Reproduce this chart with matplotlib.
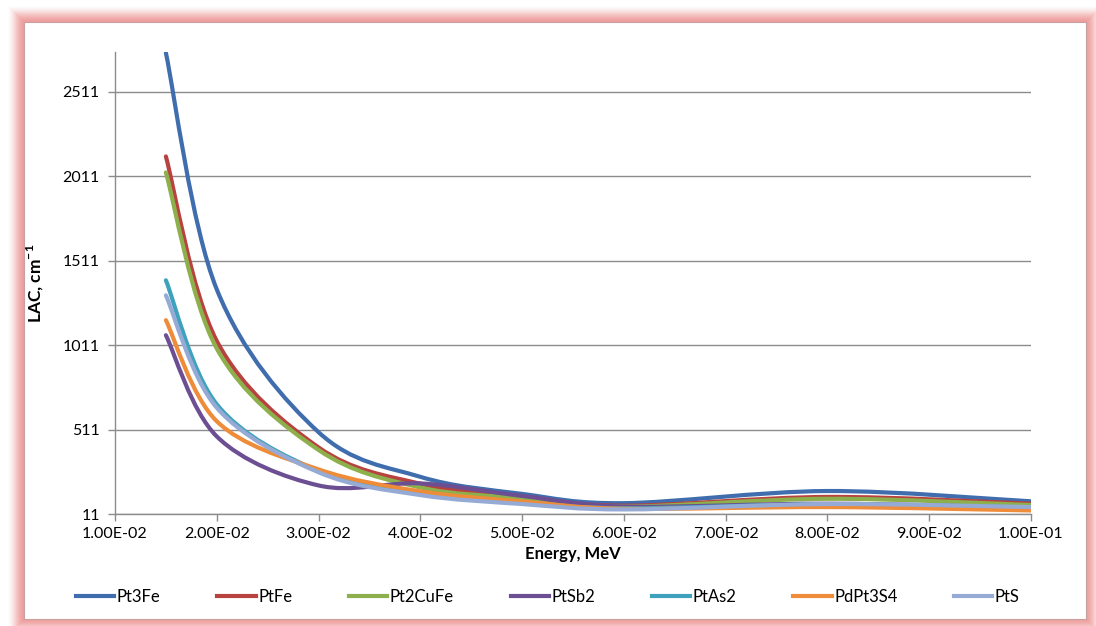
"""
LAC vs photon energy for platinum-group minerals, Excel-style smoothed lines.
"""

import numpy as np
import matplotlib
matplotlib.use("Agg")
import matplotlib.pyplot as plt
from matplotlib.path import Path
from matplotlib.patches import PathPatch, Rectangle
from matplotlib.lines import Line2D
from matplotlib.ticker import FuncFormatter

plt.rcParams["font.family"] = ["Lato", "DejaVu Sans"]

# energies, MeV
energy = [0.015, 0.02, 0.03, 0.04, 0.05, 0.06, 0.08, 0.1]

# linear attenuation coefficient, cm^-1
pt3fe   = [2740, 1340, 495, 231, 130, 75, 147, 86]
ptfe    = [2127, 1035, 405, 190, 115, 60, 112, 72]
pt2cufe = [2032,  990, 390, 168, 105, 55, 101, 64]
ptsb2   = [1069,  470, 180, 192, 118, 55,  72, 48]
ptas2   = [1394,  660, 265, 140,  80, 45,  68, 50]
pdpt3s4 = [1158,  560, 275, 145,  85, 42,  52, 32]
pts     = [1305,  640, 258, 123,  70, 38,  70, 52]

names  = ["Pt3Fe", "PtFe", "Pt2CuFe", "PtSb2", "PtAs2", "PdPt3S4", "PtS"]
series = [pt3fe, ptfe, pt2cufe, ptsb2, ptas2, pdpt3s4, pts]
colors = ["#3F6DAD", "#B8423F", "#8DB04C", "#6C4F92",
          "#3EA2BD", "#EE8C3A", "#95ABD5"]

y_ticks = [11, 511, 1011, 1511, 2011, 2511]
x_ticks = [0.01, 0.02, 0.03, 0.04, 0.05, 0.06, 0.07, 0.08, 0.09, 0.10]


def smooth_path(xs, ys):
    """Catmull-Rom style cubic Bezier through the points (like Excel smoothing)."""
    p = np.column_stack([xs, ys]).astype(float)
    n = len(p)
    verts = [p[0]]
    codes = [Path.MOVETO]
    for i in range(n - 1):
        p0 = p[i - 1] if i > 0 else p[i]
        p3 = p[i + 2] if i + 2 < n else p[i + 1]
        c1 = p[i] + (p[i + 1] - p0) / 6
        c2 = p[i + 1] - (p3 - p[i]) / 6
        verts += [c1, c2, p[i + 1]]
        codes += [Path.CURVE4] * 3
    return Path(verts, codes)


fig = plt.figure(figsize=(10.96, 6.26), dpi=100)
fig.patch.set_facecolor("white")

# pink glowing frame around the chart area
W, H = 1096, 626
x0, y0, x1, y1 = 24, 7, 1086, 604   # white panel in pixels (from bottom)
for k, a in zip(range(16, 0, -1), np.linspace(0.05, 0.6, 16)):
    fig.add_artist(Rectangle(((x0 - k) / W, (y0 - k) / H),
                             (x1 - x0 + 2 * k) / W, (y1 - y0 + 2 * k) / H,
                             transform=fig.transFigure, facecolor="#EE8F8F",
                             edgecolor="none", alpha=a * 0.35, zorder=-3))
fig.add_artist(Rectangle((x0 / W, y0 / H), (x1 - x0) / W, (y1 - y0) / H,
                         transform=fig.transFigure, facecolor="white",
                         edgecolor="#C9A0A0", lw=0.8, zorder=-2))

ax = fig.add_axes([115 / W, 1 - 514 / H, (1031 - 115) / W, (514 - 52) / H])
ax.set_facecolor("none")

for vals, c in zip(series, colors):
    ax.add_patch(PathPatch(smooth_path(energy, vals), fill=False,
                           edgecolor=c, lw=3.0, capstyle="round",
                           joinstyle="round", zorder=3))

ax.set_xlim(0.01, 0.10)
ax.set_ylim(11, 2745)
ax.set_xticks(x_ticks)
ax.set_yticks(y_ticks)
ax.xaxis.set_major_formatter(FuncFormatter(lambda v, _: f"{v:.2E}"))
ax.grid(axis="y", color="#8C8C8C", lw=1.0)
ax.set_axisbelow(True)

for side in ["top", "right"]:
    ax.spines[side].set_visible(False)
for side in ["left", "bottom"]:
    ax.spines[side].set_color("#8C8C8C")
    ax.spines[side].set_linewidth(1.0)
ax.tick_params(axis="both", colors="#8C8C8C", length=5, width=1.0,
               labelcolor="black", labelsize=11.5)
ax.tick_params(axis="y", pad=6)
ax.tick_params(axis="x", pad=4)

ax.set_xlabel("Energy, MeV", fontsize=12, fontweight="bold", labelpad=4)
ax.set_ylabel(r"LAC, cm$^{\mathregular{-1}}$", fontsize=12.5,
              fontweight="bold", labelpad=12)

handles = [Line2D([], [], color=c, lw=3.0) for c in colors]
fig.legend(handles, names, loc="center", bbox_to_anchor=(0.5, 1 - 597 / H),
           ncol=7, frameon=False, fontsize=12, handlelength=2.3,
           handletextpad=0.15, columnspacing=3.4)

fig.savefig("out.png", dpi=100)
